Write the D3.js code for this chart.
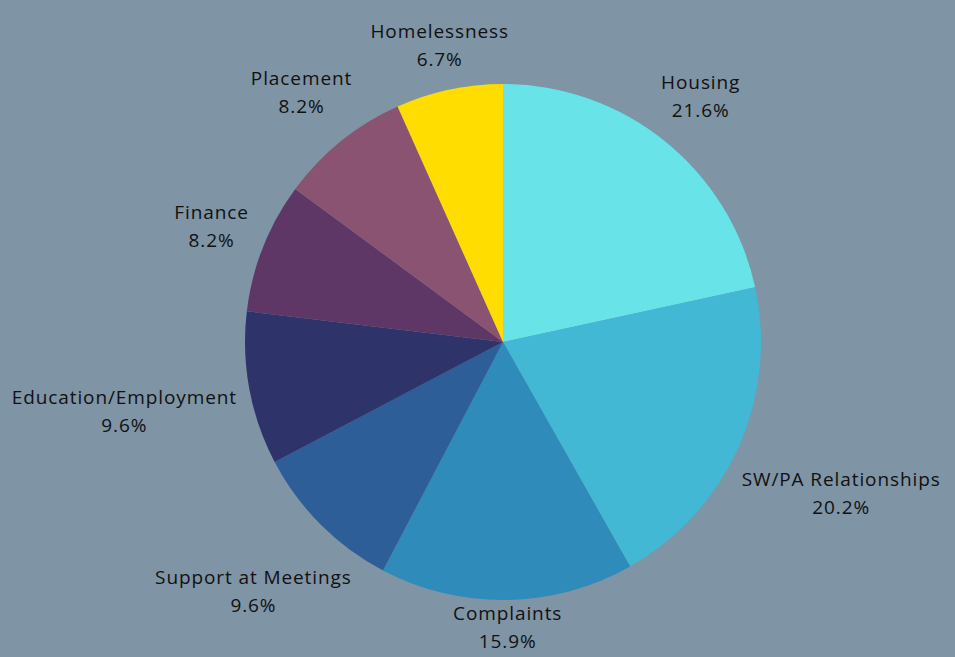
<!DOCTYPE html>
<html>
<head>
<meta charset="utf-8">
<script src="https://cdn.jsdelivr.net/npm/d3@7"></script>
<style>
  html, body { margin: 0; padding: 0; background: #7f94a5; }
  svg { display: block; }
</style>
</head>
<body>
<div id="chart"></div>
<script>
// categories and shares (percent), clockwise from 12 o'clock
const categories = ["Housing", "SW/PA Relationships", "Complaints", "Support at Meetings",
                    "Education/Employment", "Finance", "Placement", "Homelessness"];
const shares = [21.6, 20.2, 15.9, 9.6, 9.6, 8.2, 8.2, 6.7];
const colors = ["#68e4e8", "#42b8d4", "#2e8bba", "#2d5e97", "#2e336a", "#5e3766", "#8a5371", "#ffdd00"];

const width = 955, height = 657;
const cx = 503, cy = 342, radius = 258;
const gap = 11;

const svg = d3.select("#chart")
  .append("svg")
  .attr("width", width)
  .attr("height", height);

svg.append("rect")
  .attr("width", width)
  .attr("height", height)
  .attr("fill", "#7f94a5");

const g = svg.append("g")
  .attr("transform", `translate(${cx},${cy})`);

const data = categories.map((c, i) => ({ name: c, value: shares[i], color: colors[i] }));

const pie = d3.pie()
  .value(d => d.value)
  .sort(null);

const arc = d3.arc()
  .innerRadius(0)
  .outerRadius(radius);

const arcs = pie(data);

g.selectAll("path")
  .data(arcs)
  .enter()
  .append("path")
  .attr("d", arc)
  .attr("fill", d => d.data.color);

// labels: two lines, pushed out along the slice's mid angle until the box clears the pie
const lineH = 28;
const labels = g.selectAll("g.label")
  .data(arcs)
  .enter()
  .append("g")
  .attr("class", "label");

labels.append("text")
  .attr("y", -lineH / 2)
  .text(d => d.data.name);

labels.append("text")
  .attr("y", lineH / 2)
  .text(d => d.data.value.toFixed(1) + "%");

labels.selectAll("text")
  .attr("text-anchor", "middle")
  .attr("dy", "0.35em")
  .style("font-family", "'Open Sans', sans-serif")
  .style("font-size", "19px")
  .style("letter-spacing", "0.9px")
  .attr("fill", "#111");

labels.each(function(d) {
  const node = d3.select(this);
  const bb = this.getBBox();
  const hw = bb.width / 2, hh = bb.height / 2;
  const a = (d.startAngle + d.endAngle) / 2;
  const ux = Math.sin(a), uy = -Math.cos(a);
  // distance from origin to nearest point of a box centred at (x, y)
  const nearest = (x, y) => {
    const dx = Math.max(Math.abs(x) - hw, 0);
    const dy = Math.max(Math.abs(y) - hh, 0);
    return Math.hypot(dx, dy);
  };
  let t = radius;
  while (nearest(t * ux, t * uy) < radius + gap && t < 800) t += 0.5;
  let x = t * ux, y = t * uy;
  // keep the label inside the picture
  const maxY = height - cy - hh - 3;
  if (y > maxY) y = maxY;
  node.attr("transform", `translate(${x},${y})`);
});
</script>
</body>
</html>
